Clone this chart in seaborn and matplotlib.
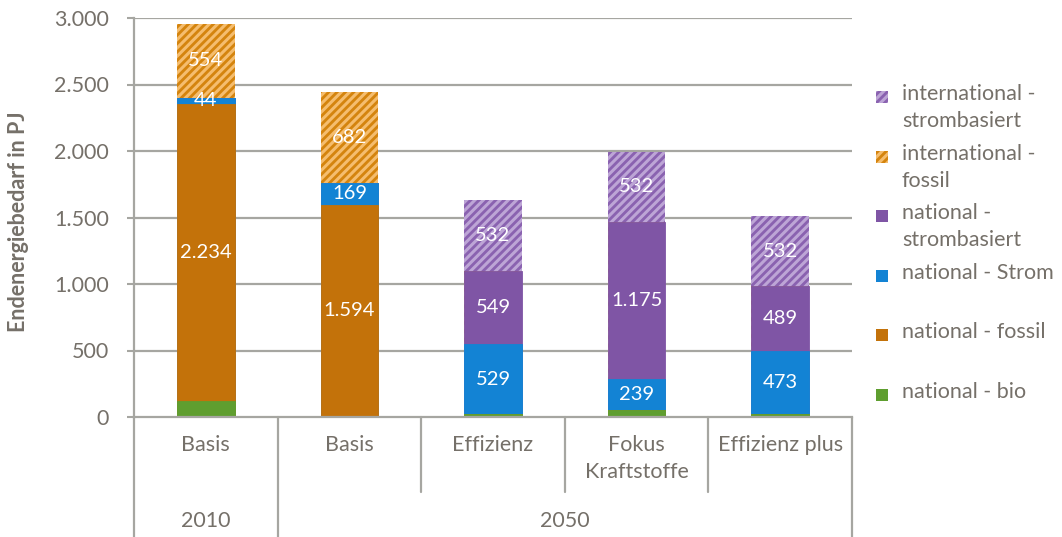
import numpy as np
import pandas as pd
import matplotlib
matplotlib.use("Agg")
import matplotlib.pyplot as plt
import matplotlib.transforms as mtransforms
from matplotlib.patches import Rectangle
import seaborn as sns

# data (PJ)
cats = ["2010 Basis", "2050 Basis", "Effizienz", "Fokus Kraftstoffe", "Effizienz plus"]
cat_labels = ["Basis", "Basis", "Effizienz", "Fokus\nKraftstoffe", "Effizienz plus"]
years = ["2010", "2050"]
nat_bio = [122, 0, 20, 50, 20]
nat_fossil = [2234, 1594, 0, 0, 0]
nat_strom = [44, 169, 529, 239, 473]
nat_strombasiert = [0, 0, 549, 1175, 489]
int_fossil = [554, 682, 0, 0, 0]
int_strombasiert = [0, 0, 532, 532, 532]

series = [
    ("national - bio", nat_bio, "#5f9e2f", None, False),
    ("national - fossil", nat_fossil, "#c3720a", None, True),
    ("national - Strom", nat_strom, "#1383d4", None, True),
    ("national -\nstrombasiert", nat_strombasiert, "#7f55a5", None, True),
    ("international -\nfossil", int_fossil, "#d4840e", "#f5bd6e", True),
    ("international -\nstrombasiert", int_strombasiert, "#8a62b0", "#bda5d6", True),
]

sns.set_style("white")
plt.rcParams["font.family"] = ["Lato", "DejaVu Sans"]
plt.rcParams["hatch.linewidth"] = 2.2
gray = "#a6a6a1"
txt = "#757069"

fig = plt.figure(figsize=(10.62, 5.37), dpi=100)
ax = fig.add_axes([134 / 1062, 1 - 417 / 537, 718 / 1062, 399 / 537])

for v in range(500, 3001, 500):
    ax.axhline(v, color=gray, lw=1.6, zorder=0)

# stacked bars: draw cumulative totals from top layer down
cum = np.cumsum([s[1] for s in series], axis=0)
for i in range(len(series) - 1, -1, -1):
    name, vals, col, hcol, lab = series[i]
    df = pd.DataFrame({"cat": cats, "val": cum[i]})
    sns.barplot(data=df, x="cat", y="val", order=cats, color=col, width=0.4,
                saturation=1, ax=ax, zorder=2,
                edgecolor=hcol if hcol else col, linewidth=0.6 if hcol is None else 0,
                hatch="////" if hcol else None)

# value labels
for i, (name, vals, col, hcol, lab) in enumerate(series):
    if not lab:
        continue
    for j, v in enumerate(vals):
        if v <= 0:
            continue
        y = cum[i][j] - v / 2
        s = f"{v:,}".replace(",", ".")
        ax.text(j, y, s, ha="center", va="center", color="white", fontsize=14.5, zorder=5)

ax.set_xlim(-0.5, 4.5)
ax.set_ylim(0, 3000)
ax.set_yticks(range(0, 3001, 500))
ax.set_yticklabels([f"{v:,}".replace(",", ".") for v in range(0, 3001, 500)])
ax.set_xticks(range(5))
ax.set_xticklabels(cat_labels, linespacing=1.45)
ax.tick_params(axis="x", length=0, pad=13, labelsize=15.5, colors=txt)
ax.tick_params(axis="y", length=5, width=1.5, color=gray, pad=13, labelsize=15.5, colors=txt, left=True)
ax.set_xlabel("")
ax.set_ylabel("Endenergiebedarf in PJ", fontsize=15.5, fontweight="bold", color=txt)
ax.yaxis.set_label_coords(-0.146, 0.49)
for sp in ["top", "right"]:
    ax.spines[sp].set_visible(False)
for sp in ["left", "bottom"]:
    ax.spines[sp].set_color(gray)
    ax.spines[sp].set_linewidth(1.6)

# category separators and year labels below axis
trans = mtransforms.blended_transform_factory(ax.transData, ax.transAxes)
for x in [-0.5, 0.5, 4.5]:
    ax.plot([x, x], [0, -0.3], color=gray, lw=1.6, transform=trans, clip_on=False)
for x in [1.5, 2.5, 3.5]:
    ax.plot([x, x], [0, -0.188], color=gray, lw=1.6, transform=trans, clip_on=False)
ax.text(0, -0.261, years[0], transform=trans, ha="center", va="center", fontsize=15.5, color=txt)
ax.text(2.5, -0.261, years[1], transform=trans, ha="center", va="center", fontsize=15.5, color=txt)

# legend, Excel style: handle beside the first line, fixed slot height
W, H = 1062, 537
y0, step = 97, 59.6
for k, (name, vals, col, hcol, lab) in enumerate(series[::-1]):
    yc = y0 + k * step
    r = Rectangle((876 / W, 1 - (yc + 6) / H), 12 / W, 12 / H, transform=fig.transFigure,
                  facecolor=col, edgecolor=hcol if hcol else col, linewidth=0,
                  hatch="////" if hcol else None)
    fig.patches.append(r)
    fig.text(902 / W, 1 - (yc - 13) / H, name, ha="left", va="top", fontsize=15.5,
             color=txt, linespacing=1.45)

fig.savefig("out.png", dpi=100)
